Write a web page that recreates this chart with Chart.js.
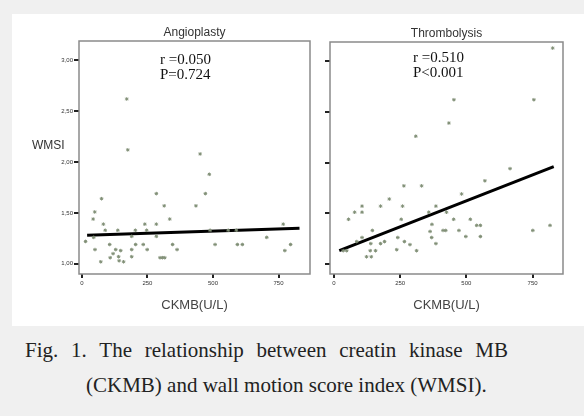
<!DOCTYPE html>
<html>
<head>
<meta charset="utf-8">
<script src="https://cdn.jsdelivr.net/npm/chart.js@4.4.1/dist/chart.umd.min.js"></script>
<style>
  body { margin: 0; background: #f0f0f0; width: 584px; height: 416px; overflow: hidden; position: relative; }
  #panel { position: absolute; left: 12px; top: 14px; width: 572px; height: 312px; background: #fff; }
  canvas { position: absolute; top: 14px; }
  .cap { position: absolute; font-family: "Liberation Serif", "Times New Roman", serif; font-size: 21px; line-height: 35px; color: #222; white-space: nowrap; }
  #cap1 { left: 25px; width: 483px; top: 333px; display: flex; justify-content: space-between; }
  #cap2 { left: 86px; top: 368px; }
</style>
</head>
<body>
<div id="panel"></div>
<canvas id="angio" width="303" height="312" style="left:12px"></canvas>
<canvas id="thromb" width="263" height="312" style="left:315px"></canvas>
<div class="cap" id="cap1"><span>Fig.</span><span>1.</span><span>The</span><span>relationship</span><span>between</span><span>creatin</span><span>kinase</span><span>MB</span></div>
<div class="cap" id="cap2">(CKMB) and wall motion score index (WMSI).</div>
<script>
// y ticks shown with comma decimals like the original
const yTicks = [1.0, 1.5, 2.0, 2.5, 3.0];
const yTickLabels = ["1,00", "1,50", "2,00", "2,50", "3,00"];
const xTicks = [0, 250, 500, 750];

// angioplasty points, CKMB vs WMSI
const angioX = [75, 49, 43, 82, 89, 137, 204, 240, 247, 284, 284, 314, 335, 435, 14, 45, 106, 50, 72, 190, 205, 190, 190, 234, 249, 284,
  129, 148, 119, 140, 108, 142, 159, 346, 363, 298, 307, 316, 171, 175, 451, 471, 486, 489, 558, 589, 508, 593, 612, 705, 768, 796, 774];
const angioY = [1.64, 1.51, 1.44, 1.39, 1.33, 1.33, 1.33, 1.39, 1.33, 1.39, 1.69, 1.57, 1.44, 1.57, 1.22, 1.26, 1.19, 1.14, 1.02, 1.27, 1.19, 1.14, 1.07, 1.19, 1.14, 1.27,
  1.14, 1.13, 1.10, 1.07, 1.06, 1.03, 1.02, 1.19, 1.14, 1.06, 1.06, 1.06, 2.62, 2.12, 2.08, 1.69, 1.88, 1.33, 1.33, 1.33, 1.19, 1.19, 1.19, 1.26, 1.39, 1.19, 1.13];

// thrombolysis points
const thrombX = [264, 331, 209, 106, 176, 259, 385, 78, 106, 55, 254, 358, 370, 412, 422, 363, 369, 385, 145, 106, 86, 139, 176, 191, 241, 266, 287, 237, 312,
  137, 157, 123, 141, 35, 48, 482, 570, 425, 452, 515, 539, 553, 472, 498, 553, 751, 816, 826, 453, 755, 434, 309, 665];
const thrombY = [1.77, 1.77, 1.64, 1.57, 1.57, 1.57, 1.57, 1.51, 1.51, 1.44, 1.44, 1.51, 1.39, 1.33, 1.33, 1.32, 1.26, 1.20, 1.33, 1.26, 1.22, 1.20, 1.20, 1.22, 1.26, 1.22, 1.19, 1.14, 1.13,
  1.13, 1.13, 1.07, 1.07, 1.13, 1.13, 1.69, 1.82, 1.51, 1.44, 1.44, 1.38, 1.38, 1.33, 1.27, 1.27, 1.33, 1.38, 3.13, 2.62, 2.62, 2.39, 2.26, 1.94];

// fitted lines
const fitX = [20, 830];
const angioFitY = [1.28, 1.35];
const thrombFitY = [1.13, 1.96];

const pts = (xs, ys) => xs.map((x, i) => ({x: x, y: ys[i]}));

// frame around plot + panel texts
const panelText = {
  id: "panelText",
  afterDraw(chart, args, opts) {
    const ctx = chart.ctx, a = chart.chartArea;
    ctx.save();
    ctx.strokeStyle = "#8a8a8a";
    ctx.lineWidth = 1.5;
    ctx.strokeRect(a.left, a.top, a.right - a.left, a.bottom - a.top);
    ctx.fillStyle = "#333";
    ctx.font = "12px 'Liberation Sans', Arial, sans-serif";
    ctx.textAlign = "center";
    ctx.textBaseline = "middle";
    ctx.fillText(opts.title, (a.left + a.right) / 2, a.top - 8);
    ctx.fillStyle = "#111";
    ctx.font = "15px 'Liberation Serif', 'Times New Roman', serif";
    ctx.textAlign = "left";
    ctx.fillText(opts.r, opts.tx, opts.ty);
    ctx.fillText(opts.p, opts.tx, opts.ty + 15);
    if (opts.ylabel) {
      ctx.fillStyle = "#333";
      ctx.font = "12px 'Liberation Sans', Arial, sans-serif";
      ctx.fillText(opts.ylabel, 20, 132);
    }
    ctx.restore();
  }
};

function makeChart(id, xs, ys, fitY, xMin, xMax, yWidth, pad, text, showYLabels) {
  return new Chart(document.getElementById(id), {
    type: "scatter",
    data: {
      datasets: [{
        data: pts(xs, ys),
        pointStyle: "star",
        pointRadius: 1.8,
        borderWidth: 1,
        borderColor: "#808f76",
        backgroundColor: "#808f76"
      }, {
        type: "line",
        data: pts(fitX, fitY),
        borderColor: "#000",
        borderWidth: 3,
        pointRadius: 0,
        showLine: true
      }]
    },
    options: {
      responsive: false,
      animation: false,
      layout: {padding: pad},
      plugins: {
        legend: {display: false},
        tooltip: {enabled: false},
        panelText: text
      },
      scales: {
        x: {
          min: xMin, max: xMax,
          afterBuildTicks: ax => { ax.ticks = xTicks.map(v => ({value: v})); },
          afterFit: ax => { ax.height = 52; },
          border: {display: false},
          grid: {drawOnChartArea: false, tickLength: 4, tickColor: "#222", lineWidth: 2},
          ticks: {font: {size: 6, family: "Liberation Sans"}, color: "#333", padding: 2, maxRotation: 0},
          title: {display: true, text: "CKMB(U/L)", color: "#444", font: {size: 13, family: "Liberation Sans"}, padding: {top: 0, bottom: 13}}
        },
        y: {
          min: 0.9, max: 3.19,
          afterBuildTicks: ax => { ax.ticks = yTicks.map(v => ({value: v})); },
          afterFit: ax => { ax.width = yWidth; },
          border: {display: false},
          grid: {drawOnChartArea: false, tickLength: 5, tickColor: "#222", lineWidth: 2},
          ticks: {
            display: showYLabels,
            font: {size: 6, family: "Liberation Sans"}, color: "#333", padding: 1,
            callback: (v) => yTickLabels[yTicks.indexOf(v)]
          }
        }
      }
    },
    plugins: [panelText]
  });
}

makeChart("angio", angioX, angioY, angioFitY, -11, 870, 67, {top: 27, right: 4, left: 0, bottom: 0},
  {title: "Angioplasty", r: "r =0.050", p: "P=0.724", tx: 148, ty: 46, ylabel: "WMSI"}, true);
makeChart("thromb", thrombX, thrombY, thrombFitY, -15, 865, 15, {top: 28, right: 15, left: 0, bottom: 0},
  {title: "Thrombolysis", r: "r =0.510", p: "P<0.001", tx: 98, ty: 44}, false);
</script>
</body>
</html>
